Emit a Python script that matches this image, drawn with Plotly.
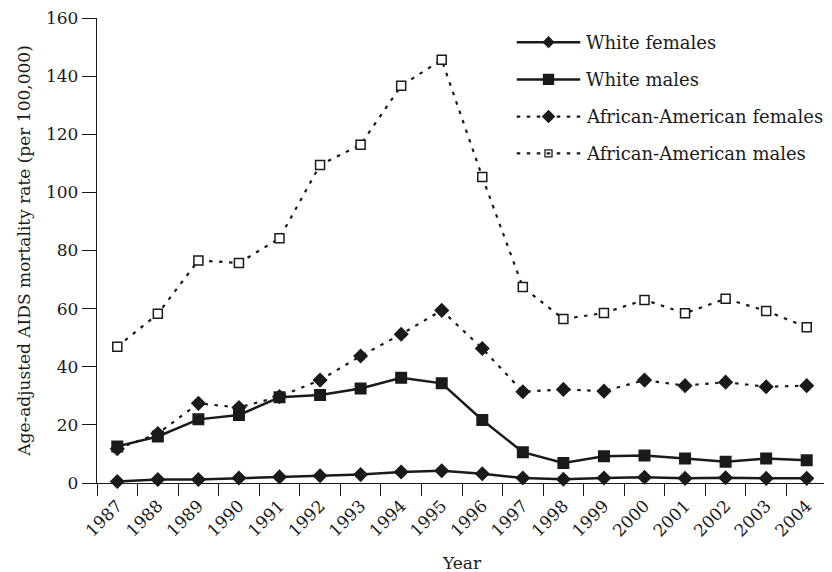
import plotly.graph_objects as go

years = [str(y) for y in range(1987, 2005)]
white_females = [0.5, 1.2, 1.2, 1.7, 2.1, 2.5, 2.9, 3.8, 4.2, 3.2, 1.7, 1.3, 1.7, 2.0, 1.6, 1.8, 1.6, 1.6]
white_males = [12.6, 16.0, 21.9, 23.4, 29.5, 30.3, 32.5, 36.2, 34.3, 21.7, 10.6, 6.9, 9.2, 9.5, 8.4, 7.3, 8.4, 7.8]
aa_females = [11.8, 17.0, 27.4, 26.0, 29.7, 35.4, 43.7, 51.2, 59.4, 46.3, 31.4, 32.2, 31.6, 35.4, 33.5, 34.7, 33.1, 33.5]
aa_males = [46.9, 58.2, 76.6, 75.7, 84.2, 109.4, 116.4, 136.7, 145.6, 105.3, 67.4, 56.4, 58.5, 63.0, 58.4, 63.4, 59.2, 53.6]
series_names = ["White females", "White males", "African-American females", "African-American males"]
y_ticks = [0, 20, 40, 60, 80, 100, 120, 140, 160]

INK = "#1a1a1a"
FONT = "DejaVu Serif"
DOT = "3.5px,6.5px"

styles = [
    dict(dash="solid", symbol="diamond", size=10, fill=INK, lw=2.5, leg=8),
    dict(dash="solid", symbol="square", size=10.5, fill=INK, lw=2.5, leg=10),
    dict(dash=DOT, symbol="diamond", size=10, fill=INK, lw=2.2, leg=9),
    dict(dash=DOT, symbol="square", size=9, fill="white", lw=2.2, leg=7),
]
data = [white_females, white_males, aa_females, aa_males]

fig = go.Figure()
for name, vals, st in zip(series_names, data, styles):
    fig.add_trace(go.Scatter(
        x=years, y=vals, name=name, mode="lines+markers",
        line=dict(color=INK, width=st["lw"], dash=st["dash"]),
        marker=dict(symbol=st["symbol"], size=st["size"], color=st["fill"],
                    line=dict(color=INK, width=1.5)),
        showlegend=False, cliponaxis=False,
    ))

# manual legend (layout decoration in paper coords)
leg_rows = [0.948, 0.868, 0.788, 0.709]
lx0, lx1, lxm, ltx = 0.575, 0.662, 0.6185, 0.667
for name, st, ry in zip(series_names, styles, leg_rows):
    fig.add_shape(type="line", xref="paper", yref="paper", x0=lx0, x1=lx1, y0=ry, y1=ry,
                  line=dict(color=INK, width=st["lw"], dash=st["dash"]))
    fig.add_trace(go.Scatter(
        x=[lxm], y=[ry], xaxis="x2", yaxis="y2", mode="markers",
        marker=dict(symbol=st["symbol"], size=st["leg"], color=st["fill"], line=dict(color=INK, width=1.3)),
        showlegend=False, hoverinfo="skip",
    ))
    fig.add_annotation(x=ltx, y=ry, xref="paper", yref="paper", text=name, showarrow=False,
                       xanchor="left", yanchor="middle", font=dict(family=FONT, size=18, color=INK))

fig.add_annotation(x=0.5, y=-0.172, xref="paper", yref="paper", text="Year", showarrow=False,
                   xanchor="center", yanchor="middle", font=dict(family=FONT, size=17, color=INK))

fig.update_layout(
    width=824, height=564,
    margin=dict(l=89, r=5, t=10, b=89),
    paper_bgcolor="white", plot_bgcolor="white",
    font=dict(family=FONT, size=17, color=INK),
    xaxis=dict(
        type="category", categoryorder="array", categoryarray=years,
        range=[-0.5, len(years) - 0.5], tickson="boundaries", automargin=False,
        ticks="outside", ticklen=12, tickwidth=1.4, tickcolor=INK,
        showline=True, linecolor=INK, linewidth=1.4, showgrid=False, zeroline=False,
        tickangle=-45, tickfont=dict(family=FONT, size=17), ticklabelstandoff=5,
        ticklabeloverflow="allow",
    ),
    yaxis=dict(
        range=[0, 160], tickvals=y_ticks, ticks="outside", ticklen=14, tickwidth=1.4, tickcolor=INK,
        showline=True, linecolor=INK, linewidth=1.4, showgrid=False, zeroline=False, automargin=False,
        tickfont=dict(family=FONT, size=17), ticksuffix=" ", ticklabeloverflow="allow",
        title=dict(text="Age-adjusted AIDS mortality rate (per 100,000)", font=dict(family=FONT, size=17), standoff=10),
    ),
    xaxis2=dict(overlaying="x", range=[0, 1], visible=False),
    yaxis2=dict(overlaying="y", range=[0, 1], visible=False),
    showlegend=False,
)

fig.write_html("out.html")
